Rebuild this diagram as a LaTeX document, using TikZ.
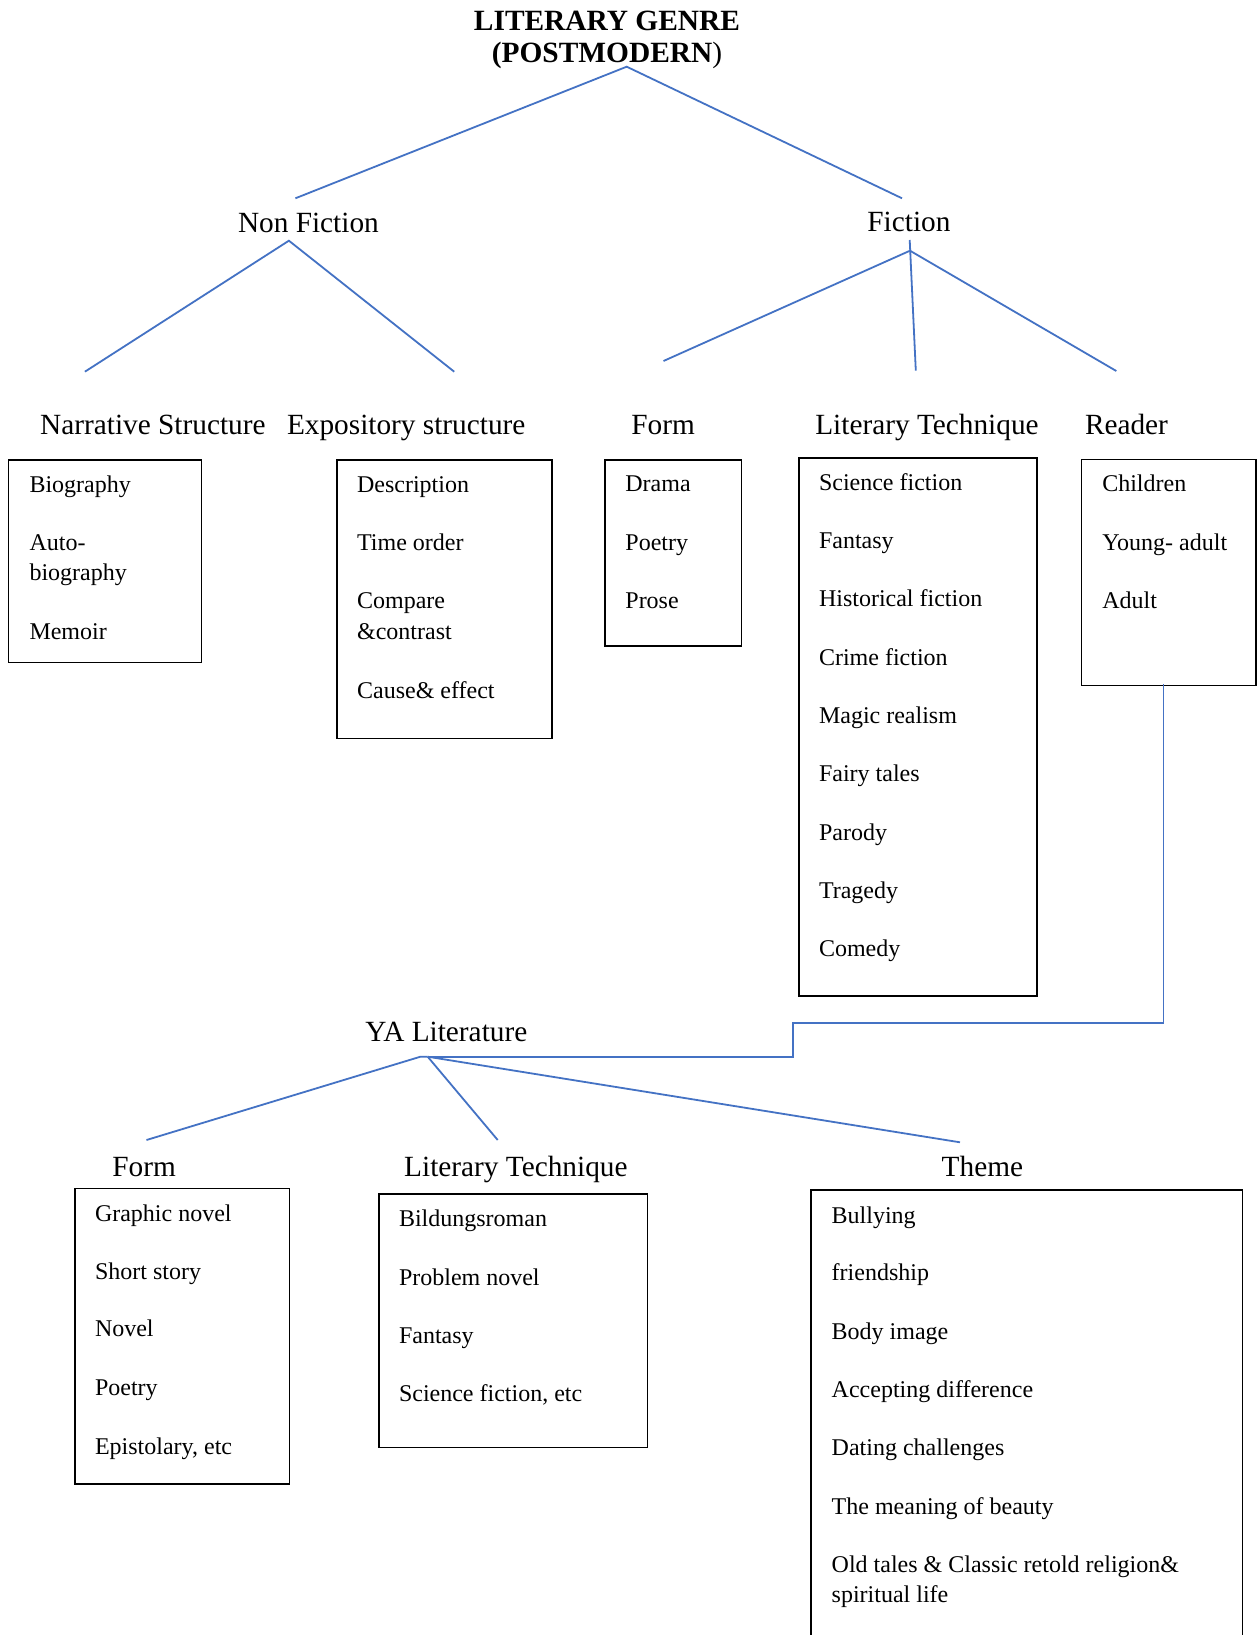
\documentclass[tikz,border=0pt]{standalone}
\usepackage{fontspec}
\setmainfont{Liberation Serif}
\definecolor{lineblue}{RGB}{68,114,196}
\begin{document}
\begin{tikzpicture}[x=1pt,y=-1pt,
  conn/.style={draw=lineblue, line width=1.8pt},
  listbox/.style={draw=black, line width=1.4pt, inner sep=0pt, outer sep=0pt, anchor=north west},
  item/.style={anchor=base west, inner sep=0pt, outer sep=0pt, font=\fontsize{24}{29}\selectfont},
  heading/.style={anchor=base west, inner sep=0pt, outer sep=0pt, font=\fontsize{29.3}{35}\selectfont},
  titletext/.style={anchor=base, inner sep=0pt, outer sep=0pt, font=\bfseries\fontsize{29.4}{32}\selectfont}]
\useasboundingbox (0,0) rectangle (1258,1635);
\fill[white] (0,0) rectangle (1258,1635);

% ---------- title ----------
\node[titletext] (title1) at (607,31) {LITERARY GENRE};
\node[titletext] (title2) at (607,63) {(POSTMODERN\mdseries)};

% ---------- level 1 ----------
\node[heading] (nonfiction) at (238,232.3) {Non Fiction};
\node[heading] (fiction) at (867.4,231.7) {Fiction};

% ---------- level 2 headings ----------
\node[heading] (narr) at (40.2,434) {Narrative Structure};
\node[heading] (expo) at (287,434) {Expository structure};
\node[heading] (form) at (631.4,434) {Form};
\node[heading] (littech) at (815.3,434) {Literary Technique};
\node[heading] (reader) at (1085,434) {Reader};

% ---------- boxes ----------
\node[listbox, minimum width=192.9pt, minimum height=202.3pt] (nsbox) at (8.4,460) {};
\node[listbox, minimum width=215.1pt, minimum height=278.3pt] (esbox) at (336.8,460) {};
\node[listbox, minimum width=136.2pt, minimum height=186pt] (formbox) at (605.1,460) {};
\node[listbox, minimum width=238pt, minimum height=538pt] (ltbox) at (799,458) {};
\node[listbox, minimum width=174.3pt, minimum height=226.2pt] (readerbox) at (1081.7,459.3) {};

% ---------- box items ----------
\node[item] (ns1) at (29.5,492.7) {Biography};
\node[item] (ns2a) at (29.5,550) {Auto-};
\node[item] (ns2b) at (29.5,580.7) {biography};
\node[item] (ns3) at (29.5,639.3) {Memoir};

\node[item] (es1) at (357.1,492.7) {Description};
\node[item] (es2) at (357.1,550) {Time order};
\node[item] (es3a) at (357.1,608.3) {Compare};
\node[item] (es3b) at (357.1,639.3) {\&contrast};
\node[item] (es4) at (357.1,698.3) {Cause\& effect};

\node[item] (fo1) at (625.4,491.7) {Drama};
\node[item] (fo2) at (625.4,550) {Poetry};
\node[item] (fo3) at (625.4,608.3) {Prose};

\foreach \t [count=\i from 0] in {Science fiction, Fantasy, Historical fiction, Crime fiction, Magic realism, Fairy tales, Parody, Tragedy, Comedy}
  \node[item] (lt\i) at (819,490+58.34*\i) {\t};

\node[item] (rd1) at (1102.3,491.7) {Children};
\node[item] (rd2) at (1102.3,550) {Young- adult};
\node[item] (rd3) at (1102.3,608.3) {Adult};

% ---------- YA ----------
\node[heading] (ya) at (365.4,1041.7) {YA Literature};
\node[heading] (yaform) at (112.4,1176) {Form};
\node[heading] (yalt) at (404.2,1176) {Literary Technique};
\node[heading] (theme) at (941.7,1176.7) {Theme};

\node[listbox, minimum width=214.3pt, minimum height=295.7pt] (yaformbox) at (75,1188.3) {};
\node[listbox, minimum width=268.3pt, minimum height=253.7pt] (yaltbox) at (379,1194) {};
\draw[black, line width=1.4pt] (811,1640) -- (811,1190) -- (1242.7,1190) -- (1242.7,1640);

\node[item] (yf1) at (95,1221.7) {Graphic novel};
\node[item] (yf2) at (95,1279.3) {Short story};
\node[item] (yf3) at (95,1336.7) {Novel};
\node[item] (yf4) at (95,1395) {Poetry};
\node[item] (yf5) at (95,1454) {Epistolary, etc};

\node[item] (yl1) at (399,1226) {Bildungsroman};
\node[item] (yl2) at (399,1285) {Problem novel};
\node[item] (yl3) at (399,1343.3) {Fantasy};
\node[item] (yl4) at (399,1401.7) {Science fiction, etc};

\node[item] (th1) at (831.7,1223.3) {Bullying};
\node[item] (th2) at (831.7,1280.7) {friendship};
\node[item] (th3) at (831.7,1339) {Body image};
\node[item] (th4) at (831.7,1397.3) {Accepting difference};
\node[item] (th5) at (831.7,1455.5) {Dating challenges};
\node[item] (th6) at (831.7,1514.3) {The meaning of beauty};
\node[item] (th7a) at (831.7,1572.7) {Old tales \& Classic retold religion\&};
\node[item] (th7b) at (831.7,1602.7) {spiritual life};

% ---------- connector end points ----------
\coordinate (titleA) at (626.7,66.7);
\coordinate (nfTop) at (295.4,198.3);
\coordinate (fTop) at (902,198.3);
\coordinate (nfA) at (288.9,240.7);
\coordinate (nsTop) at (84.9,371.7);
\coordinate (esTop) at (454.2,371.7);
\coordinate (fTick) at (909.7,240);
\coordinate (fA) at (910,250.7);
\coordinate (foTop) at (663.5,361);
\coordinate (ltTop) at (915.8,370.7);
\coordinate (rdTop) at (1116.3,371);
\coordinate (rdBot) at (1163.5,684);
\coordinate (rdTurn) at (1163.5,1023);
\coordinate (stepA) at (792.8,1023);
\coordinate (stepB) at (792.8,1056.7);
\coordinate (yaA) at (427.7,1056.7);
\coordinate (yaAl) at (420.4,1056.7);
\coordinate (yfTop) at (146.5,1140);
\coordinate (ylTop) at (497.7,1140);
\coordinate (ytTop) at (960,1142.3);

% ---------- connectors ----------
\draw[conn] (nfTop) -- (titleA) -- (fTop);
\draw[conn] (nsTop) -- (nfA) -- (esTop);
\draw[conn] (foTop) -- (fA) -- (rdTop);
\draw[conn] (fTick) -- (ltTop);
\draw[conn] (rdBot) -- (rdTurn) -- (stepA) -- (stepB) -- (yaA);
\draw[conn] (yfTop) -- (yaAl) -- (yaA);
\draw[conn] (yaA) -- (ylTop);
\draw[conn] (yaA) -- (ytTop);
\end{tikzpicture}
\end{document}
